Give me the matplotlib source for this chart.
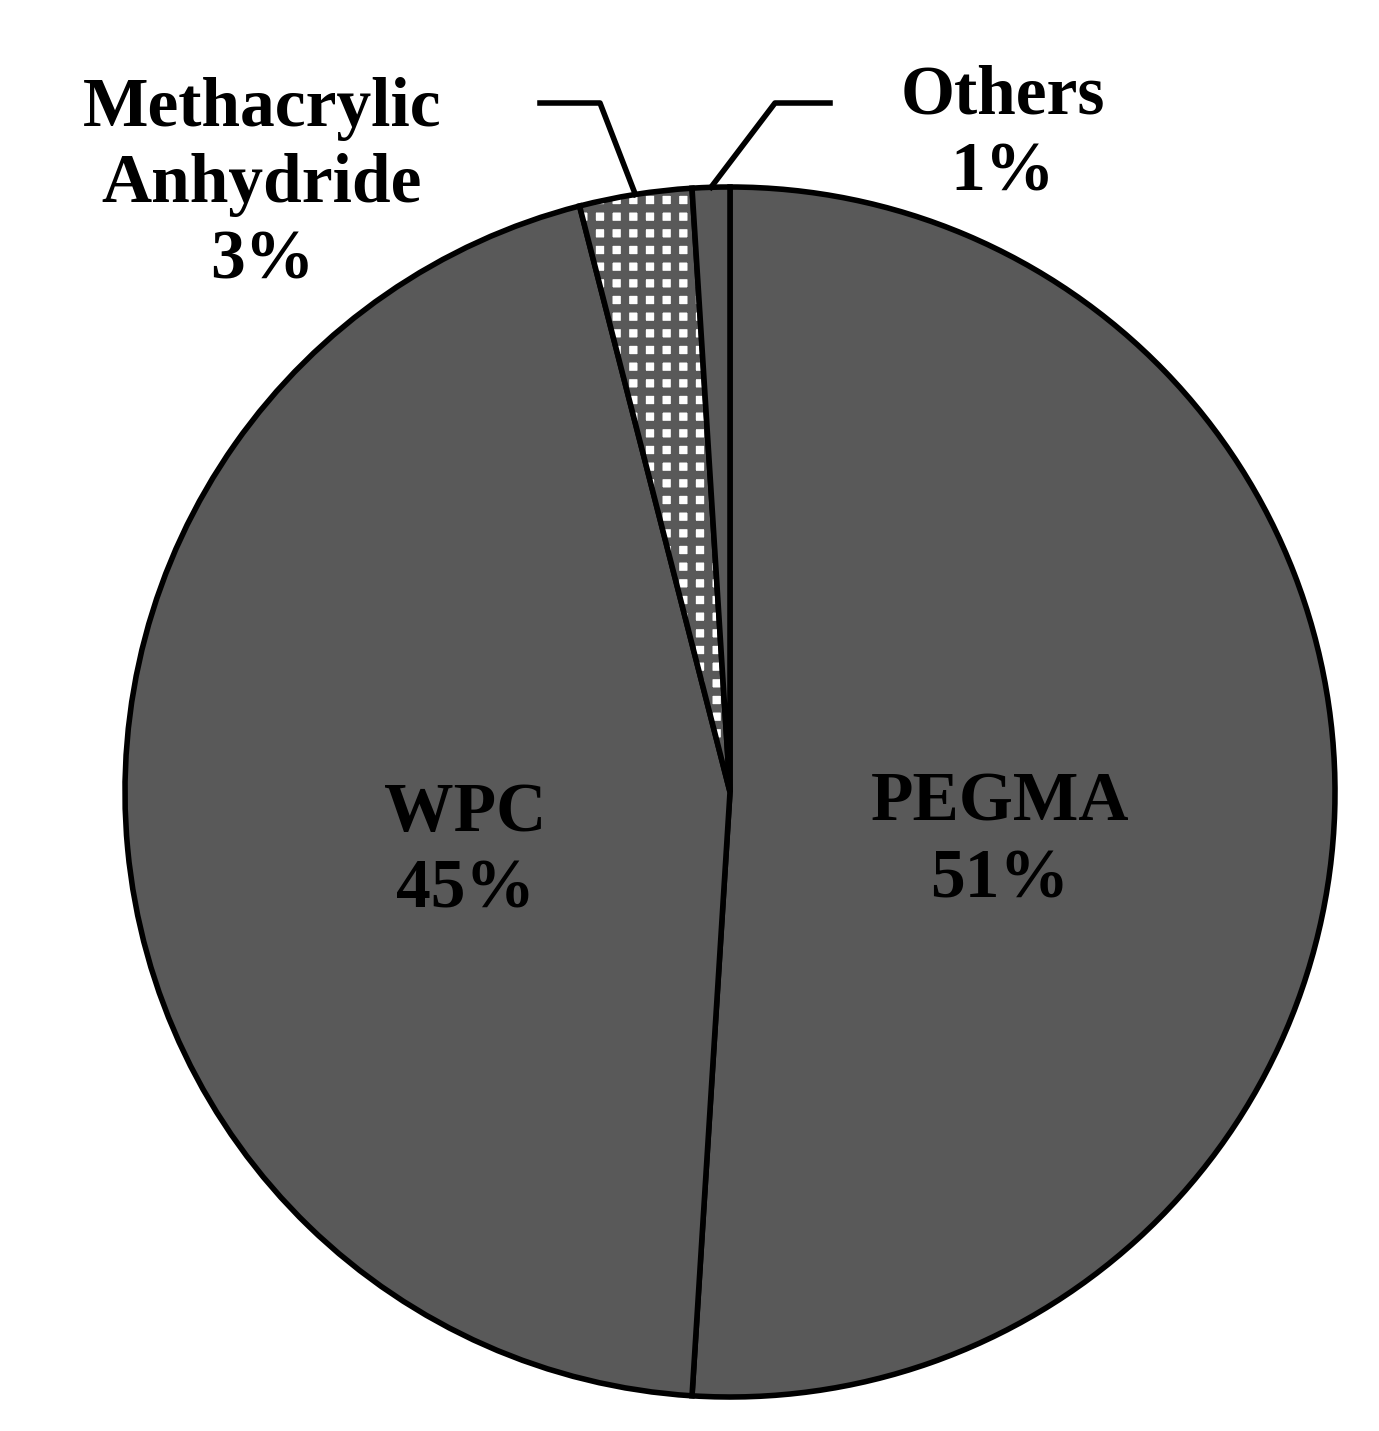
import matplotlib
matplotlib.use("Agg")
import matplotlib.pyplot as plt
import numpy as np

labels = ["PEGMA", "WPC", "Methacrylic\nAnhydride", "Others"]
values = [51, 45, 3, 1]
pcts = ["51%", "45%", "3%", "1%"]

plt.rcParams['hatch.linewidth'] = 6
fig = plt.figure(figsize=(13.79, 14.31), dpi=100)
ax = fig.add_axes([0, 0, 1, 1])
cx, cy, r = 730, 1431 - 792, 605
wedges, _ = ax.pie(values, startangle=90, counterclock=False, center=(cx, cy), radius=r,
                   colors=["#595959", "white", "white", "white"],
                   wedgeprops=dict(edgecolor="black", linewidth=4), frame=True)
ax.set_xlim(0, 1379); ax.set_ylim(0, 1431); ax.axis('off')
hatches = [None, "++", "+", "---"]
for w, h in zip(wedges, hatches):
    if h:
        w.set_hatch(h)
        w._hatch_color = matplotlib.colors.to_rgba("#595959")
font = dict(family="Liberation Serif", weight="bold", fontsize=50, color="black")
ax.text(1000, 1431 - 842, labels[0] + "\n" + pcts[0], ha="center", va="center", linespacing=1.25, **font)
ax.text(465, 1431 - 852, labels[1] + "\n" + pcts[1], ha="center", va="center", linespacing=1.25, **font)
ax.text(262, 1431 - 185, labels[2] + "\n" + pcts[2], ha="center", va="center", linespacing=1.25, **font)
ax.text(1003, 1431 - 135, labels[3] + "\n" + pcts[3], ha="center", va="center", linespacing=1.25, **font)
cum = np.cumsum([0] + values)
for i, (xb, xe) in zip([2, 3], [(600, 540), (775, 830)]):
    mid = 90 - 360 * (cum[i] + values[i] / 2) / 100
    ex, ey = cx + r * np.cos(np.radians(mid)), cy + r * np.sin(np.radians(mid))
    ax.plot([ex, xb, xe], [ey, 1431 - 103, 1431 - 103], color="black", lw=4)
fig.savefig("out.png", dpi=100)
